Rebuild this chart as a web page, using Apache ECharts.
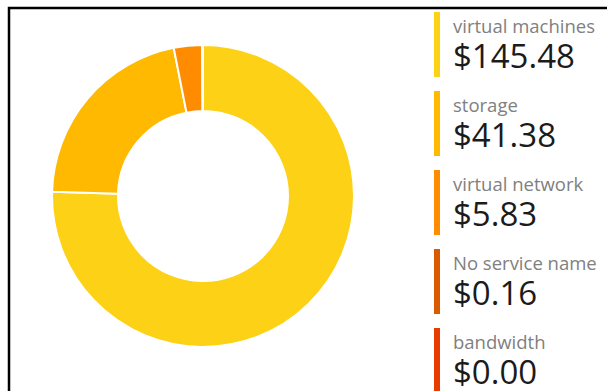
<!DOCTYPE html>
<html>
<head>
<meta charset="utf-8">
<script src="https://cdn.jsdelivr.net/npm/echarts@6/dist/echarts.min.js"></script>
<style>
  html, body { margin: 0; padding: 0; background: #fff; }
  #chart { width: 607px; height: 391px; }
</style>
</head>
<body>
<div id="chart"></div>
<script>
// Cost breakdown by service
const services = ['virtual machines', 'storage', 'virtual network', 'No service name', 'bandwidth'];
const costs = [145.48, 41.38, 5.83, 0.16, 0.00];
const colors = ['#FCD116', '#FFB900', '#FF8C00', '#DA5A00', '#E83B00'];

const costByName = {};
services.forEach((s, i) => { costByName[s] = costs[i]; });

const chart = echarts.init(document.getElementById('chart'), null, { renderer: 'svg' });

chart.setOption({
  animation: false,
  color: colors,
  legend: {
    orient: 'vertical',
    left: 432,
    top: 10,
    height: 500,
    padding: 0,
    itemWidth: 8,
    itemHeight: 67,
    itemGap: 10,
    icon: 'rect',
    selectedMode: false,
    data: services,
    formatter: function (name) {
      return '{n|' + name + '}\n{v|$' + costByName[name].toFixed(2) + '}';
    },
    textStyle: {
      padding: [0, 0, 0, 7],
      rich: {
        n: { fontFamily: 'Open Sans', fontSize: 18.5, color: '#808080', lineHeight: 22 },
        v: { fontFamily: 'Open Sans', fontSize: 33, color: '#1b1b1b', lineHeight: 38 }
      }
    }
  },
  graphic: [{
    type: 'polyline',
    shape: { points: [[9, 391], [9, 8], [607, 8]] },
    style: { stroke: '#000', lineWidth: 2.5, fill: null }
  }],
  series: [{
    type: 'pie',
    center: [203, 196],
    radius: [85, 151],
    startAngle: 90,
    clockwise: true,
    silent: true,
    label: { show: false },
    labelLine: { show: false },
    itemStyle: { borderColor: '#fff', borderWidth: 2 },
    data: services.map((s, i) => ({ name: s, value: costs[i] }))
  }]
});
</script>
</body>
</html>
